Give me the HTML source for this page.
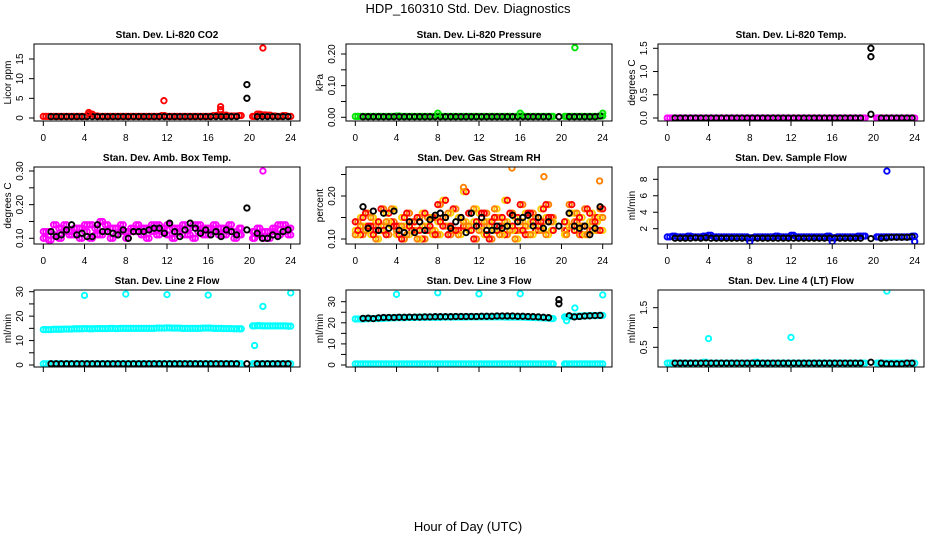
<!DOCTYPE html>
<html><head><meta charset="utf-8"><style>
html,body{margin:0;padding:0;background:#fff}
svg{display:block;font-family:"Liberation Sans",sans-serif}
</style></head><body>
<svg id="c" width="936" height="540" viewBox="0 0 936 540">
<text x="468" y="13" text-anchor="middle" font-size="13">HDP_160310  Std. Dev. Diagnostics</text>
<text x="468" y="531" text-anchor="middle" font-size="13">Hour of Day (UTC)</text>
</svg>
<script>
const tA=[0,0.5,1,1.5,2,2.5,3,3.5,4,4.5,5,5.5,6,6.5,7,7.5,8,8.5,9,9.5,10,10.5,11,11.5,12,12.5,13,13.5,14,14.5,15,15.5,16,16.5,17,17.5,18,18.5,19,20.5,21,21.5,22,22.5,23,23.5,24];
const tC=[0.25,0.75,1.25,1.75,2.25,2.75,3.25,3.75,4.25,4.75,5.25,5.75,6.25,6.75,7.25,7.75,8.25,8.75,9.25,9.75,10.25,10.75,11.25,11.75,12.25,12.75,13.25,13.75,14.25,14.75,15.25,15.75,16.25,16.75,17.25,17.75,18.25,18.75,19.2,20.3,20.75,21.25,21.75,22.25,22.75,23.25,23.75];
const tB=[0.75,1.25,1.75,2.25,2.75,3.25,3.75,4.25,4.75,5.25,5.75,6.25,6.75,7.25,7.75,8.25,8.75,9.25,9.75,10.25,10.75,11.25,11.75,12.25,12.75,13.25,13.75,14.25,14.75,15.25,15.75,16.25,16.75,17.25,17.75,18.25,18.75,19.75,20.75,21.25,21.75,22.25,22.75,23.25,23.75];
const xTicks=[0,4,8,12,16,20,24];

const co2Red=[0.4,0.4,0.4,0.4,0.4,0.4,0.4,0.4,0.4,1.0,0.5,0.4,0.4,0.4,0.4,0.4,0.4,0.4,0.4,0.4,0.4,0.4,0.4,0.6,0.4,0.4,0.4,0.4,0.4,0.4,0.4,0.4,0.4,0.6,0.8,0.7,0.5,0.5,0.6,0.4,1.0,0.8,0.7,0.5,0.4,0.6,0.4];
const co2Black=[0.35,0.35,0.35,0.35,0.35,0.35,0.35,0.35,0.35,0.35,0.35,0.35,0.35,0.35,0.35,0.35,0.35,0.35,0.35,0.35,0.35,0.35,0.35,0.35,0.35,0.35,0.35,0.35,0.35,0.35,0.35,0.35,0.35,0.35,0.35,0.35,0.35,5.0,0.35,0.35,0.35,0.35,0.35,0.35,0.35];
const co2OutT=[4.4,11.7,17.2,17.2,21.3];
const co2OutV=[1.4,4.4,2.9,2.1,17.8];
const co2BlkOutT=[19.75];
const co2BlkOutV=[8.5];
const presGreen=[0.003,0.003,0.003,0.003,0.003,0.003,0.003,0.003,0.004,0.003,0.003,0.003,0.003,0.003,0.003,0.003,0.004,0.003,0.003,0.003,0.003,0.003,0.003,0.003,0.003,0.003,0.003,0.003,0.003,0.003,0.003,0.003,0.004,0.003,0.003,0.003,0.003,0.003,0.003,0.003,0.003,0.003,0.003,0.003,0.003,0.003,0.004];
const presBlack=[0.002,0.002,0.002,0.002,0.002,0.002,0.002,0.002,0.002,0.002,0.002,0.002,0.002,0.002,0.002,0.002,0.002,0.002,0.002,0.002,0.002,0.002,0.002,0.002,0.002,0.002,0.002,0.002,0.002,0.002,0.002,0.002,0.002,0.002,0.002,0.002,0.002,0.002,0.002,0.002,0.002,0.002,0.002,0.002,0.004];
const presOutT=[8,16,24,21.3];
const presOutV=[0.013,0.013,0.013,0.22];
const tempMag=[0,0,0,0,0,0,0,0,0,0,0,0,0,0,0,0,0,0,0,0,0,0,0,0,0,0,0,0,0,0,0,0,0,0,0,0,0,0,0,0,0,0,0,0,0,0,0];
const tempBlack=[0,0,0,0,0,0,0,0,0,0,0,0,0,0,0,0,0,0,0,0,0,0,0,0,0,0,0,0,0,0,0,0,0,0,0,0,0,0.08,0,0,0,0,0,0,0];
const tempBlkOutT=[19.75,19.75];
const tempBlkOutV=[1.5,1.32];
const ambA=[0.10,0.12,0.11,0.13,0.14,0.12,0.11,0.13,0.12,0.14,0.11,0.15,0.12,0.13,0.11,0.14,0.12,0.13,0.12,0.11,0.13,0.12,0.14,0.12,0.11,0.13,0.12,0.14,0.11,0.14,0.12,0.13,0.11,0.12,0.13,0.11,0.14,0.12,0.11,0.12,0.11,0.10,0.12,0.13,0.11,0.14,0.11];
const ambB=[0.12,0.095,0.14,0.10,0.12,0.11,0.13,0.10,0.14,0.10,0.13,0.11,0.14,0.10,0.13,0.12,0.10,0.12,0.14,0.13,0.10,0.14,0.11,0.13,0.14,0.10,0.13,0.11,0.13,0.10,0.14,0.11,0.13,0.14,0.11,0.13,0.12,0.10,0.13,0.10,0.13,0.12,0.10,0.12,0.14,0.12,0.13];
const ambBlack=[0.12,0.105,0.11,0.125,0.14,0.11,0.115,0.105,0.105,0.14,0.12,0.12,0.115,0.11,0.125,0.10,0.12,0.12,0.12,0.125,0.13,0.13,0.115,0.145,0.12,0.105,0.125,0.145,0.13,0.115,0.125,0.11,0.12,0.105,0.125,0.12,0.11,0.125,0.115,0.10,0.10,0.11,0.105,0.12,0.125];
const ambOutT=[21.3];
const ambOutV=[0.30];
const ambBlkOutT=[19.75];
const ambBlkOutV=[0.19];
const rhA=[0.12,0.15,0.13,0.11,0.14,0.12,0.16,0.13,0.11,0.15,0.13,0.14,0.12,0.16,0.13,0.11,0.14,0.19,0.13,0.12,0.15,0.21,0.12,0.14,0.16,0.11,0.14,0.12,0.15,0.19,0.13,0.15,0.12,0.16,0.14,0.13,0.17,0.15,0.12,0.14,0.16,0.12,0.15,0.13,0.16,0.14,0.12];
const rhB=[0.14,0.11,0.16,0.13,0.12,0.17,0.11,0.14,0.13,0.10,0.16,0.12,0.15,0.10,0.12,0.15,0.18,0.13,0.11,0.17,0.12,0.13,0.16,0.10,0.13,0.16,0.10,0.15,0.13,0.11,0.16,0.12,0.18,0.11,0.16,0.12,0.14,0.18,0.15,0.12,0.18,0.14,0.11,0.17,0.12,0.15,0.17];
const rhC=[0.11,0.13,0.12,0.15,0.10,0.13,0.14,0.17,0.12,0.13,0.11,0.14,0.10,0.13,0.15,0.12,0.11,0.15,0.16,0.12,0.11,0.14,0.13,0.17,0.12,0.14,0.13,0.17,0.11,0.14,0.12,0.10,0.14,0.13,0.11,0.15,0.12,0.11,0.14,0.11,0.13,0.16,0.13,0.11,0.14,0.12,0.15];
const rhBlack=[0.175,0.125,0.165,0.12,0.16,0.125,0.165,0.12,0.115,0.14,0.115,0.14,0.12,0.145,0.155,0.16,0.15,0.125,0.14,0.15,0.115,0.16,0.13,0.15,0.12,0.12,0.13,0.125,0.13,0.155,0.14,0.15,0.155,0.13,0.15,0.125,0.14,0.13,0.16,0.13,0.125,0.13,0.11,0.125,0.175];
const rhOutT=[15.2,18.3,23.7,10.5];
const rhOutV=[0.265,0.245,0.235,0.22];
const sfBlue=[1.0,1.1,1.0,1.0,1.1,1.0,1.0,1.1,1.2,1.0,1.0,1.0,1.0,1.0,1.0,1.0,0.9,1.0,1.0,1.0,1.0,1.1,1.0,1.0,1.2,1.0,1.0,1.0,1.0,1.0,1.0,1.1,0.9,1.0,1.0,1.0,1.0,1.1,1.1,1.0,1.0,1.0,1.0,1.0,1.0,1.0,1.1];
const sfBlack=[0.85,0.85,0.85,0.85,0.9,0.85,0.9,0.85,0.85,0.85,0.85,0.85,0.85,0.85,0.85,0.85,0.85,0.85,0.85,0.85,0.85,0.85,0.85,0.85,0.85,0.85,0.85,0.85,0.85,0.85,0.85,0.85,0.85,0.85,0.85,0.85,0.85,0.8,0.85,0.9,0.95,0.95,0.95,0.95,1.0];
const sfOutT=[21.3,8,16,24];
const sfOutV=[9.0,0.45,0.45,0.45];
const l2Hi=[14.5,14.5,14.6,14.6,14.7,14.7,14.8,14.8,14.9,14.8,14.9,14.9,14.9,15.0,14.9,15.0,15.0,15.0,15.0,15.0,15.0,15.0,15.1,15.1,15.2,15.1,15.1,15.0,15.0,15.0,15.0,15.1,15.1,15.0,15.0,14.9,14.9,14.8,14.8,16.0,16.1,16.0,16.0,16.0,16.0,16.0,15.9];
const l2Lo=[0.5,0.5,0.5,0.5,0.5,0.5,0.5,0.5,0.5,0.5,0.5,0.5,0.5,0.5,0.5,0.5,0.5,0.5,0.5,0.5,0.5,0.5,0.5,0.5,0.5,0.5,0.5,0.5,0.5,0.5,0.5,0.5,0.5,0.5,0.5,0.5,0.5,0.5,0.5,0.5,0.5,0.5,0.5,0.5,0.5,0.5,0.5];
const l2Black=[0.5,0.5,0.5,0.5,0.5,0.5,0.5,0.5,0.5,0.5,0.5,0.5,0.5,0.5,0.5,0.5,0.5,0.5,0.5,0.5,0.5,0.5,0.5,0.5,0.5,0.5,0.5,0.5,0.5,0.5,0.5,0.5,0.5,0.5,0.5,0.5,0.5,0.5,0.5,0.5,0.5,0.5,0.5,0.5,0.5];
const l2OutT=[4,8,12,16,24,21.3,20.5];
const l2OutV=[28.5,29,28.8,28.6,29.5,24,8];
const l3Hi=[21.8,21.8,21.9,22.0,22.0,22.1,22.2,22.3,22.4,22.4,22.5,22.5,22.6,22.6,22.6,22.6,22.6,22.7,22.7,22.7,22.7,22.7,22.8,22.8,22.8,22.8,22.8,22.8,22.8,22.7,22.7,22.7,22.7,22.6,22.5,22.4,22.3,22.2,22.0,22.8,23.0,23.1,23.2,23.3,23.4,23.4,23.5];
const l3Lo=[0.5,0.5,0.5,0.5,0.5,0.5,0.5,0.5,0.5,0.5,0.5,0.5,0.5,0.5,0.5,0.5,0.5,0.5,0.5,0.5,0.5,0.5,0.5,0.5,0.5,0.5,0.5,0.5,0.5,0.5,0.5,0.5,0.5,0.5,0.5,0.5,0.5,0.5,0.5,0.5,0.5,0.5,0.5,0.5,0.5,0.5,0.5];
const l3Black=[22.1,22.2,22.0,22.3,22.5,22.5,22.5,22.6,22.6,22.7,22.7,22.7,22.8,22.8,22.9,22.9,22.9,22.9,23.0,23.0,23.0,23.0,23.0,23.1,23.1,23.1,23.2,23.2,23.2,23.2,23.1,23.1,23.0,22.9,22.8,22.6,22.4,29.0,23.3,22.8,23.0,23.2,23.3,23.4,23.5];
const l3OutT=[4,8,12,16,24,21.3,20.5];
const l3OutV=[33.5,34.2,33.7,33.8,33.2,27,21];
const l3BlkOutT=[19.75];
const l3BlkOutV=[31];
const l4Cyan=[0.1,0.1,0.1,0.1,0.1,0.1,0.1,0.12,0.1,0.1,0.1,0.1,0.1,0.1,0.1,0.1,0.1,0.12,0.1,0.1,0.1,0.1,0.1,0.1,0.1,0.1,0.1,0.1,0.1,0.1,0.1,0.1,0.1,0.1,0.1,0.1,0.1,0.1,0.1,0.1,0.1,0.1,0.1,0.1,0.1,0.1,0.1];
const l4Black=[0.1,0.1,0.1,0.1,0.1,0.1,0.1,0.1,0.1,0.1,0.1,0.1,0.1,0.1,0.1,0.1,0.1,0.1,0.1,0.1,0.1,0.1,0.1,0.1,0.1,0.1,0.1,0.1,0.1,0.1,0.1,0.1,0.1,0.1,0.1,0.1,0.1,0.12,0.1,0.08,0.08,0.08,0.08,0.1,0.1];
const l4OutT=[4,12,21.3];
const l4OutV=[0.72,0.75,1.92];

const NS="http://www.w3.org/2000/svg";
const svg=document.getElementById('c');
function mk(tag,attrs,parent){const e=document.createElementNS(NS,tag);for(const k in attrs)e.setAttribute(k,attrs[k]);(parent||svg).appendChild(e);return e;}

const RED="#ff0000",GRN="#00e400",MAG="#ff00ff",BLU="#0000ff",CYN="#00ffff",YEL="#ffd000",ORG="#ff8000",BLK="#000000";
const panels=[
 {title:"Stan. Dev. Li-820 CO2",ylab:"Licor ppm",col:0,row:0,ref:[0,74,15,15],ticks:[0,5,10,15],labels:[0,5,10,15],fmt:0,
  series:[[tA,co2Red,RED],[tC,co2Red,RED],[tB,co2Black,BLK],[co2BlkOutT,co2BlkOutV,BLK],[co2OutT,co2OutV,RED]]},
 {title:"Stan. Dev. Li-820 Pressure",ylab:"kPa",col:1,row:0,ref:[0,73.3,0.2,10],ticks:[0,0.05,0.1,0.15,0.2],labels:[0,0.1,0.2],fmt:2,
  series:[[tA,presGreen,GRN],[tC,presGreen,GRN],[tB,presBlack,BLK],[presOutT,presOutV,GRN]]},
 {title:"Stan. Dev. Li-820 Temp.",ylab:"degrees C",col:2,row:0,ref:[0,74,1.5,4.3],ticks:[0,0.5,1,1.5],labels:[0,0.5,1,1.5],fmt:1,
  series:[[tA,tempMag,MAG],[tC,tempMag,MAG],[tB,tempBlack,BLK],[tempBlkOutT,tempBlkOutV,BLK]]},
 {title:"Stan. Dev. Amb. Box Temp.",ylab:"degrees C",col:0,row:1,ref:[0.1,71.3,0.3,4],ticks:[0.1,0.15,0.2,0.25,0.3],labels:[0.1,0.2,0.3],fmt:2,
  series:[[tA,ambA,MAG],[tC,ambB,MAG],[tA,ambB,MAG],[tC,ambA,MAG],[tB,ambBlack,BLK],[ambBlkOutT,ambBlkOutV,BLK],[ambOutT,ambOutV,MAG]]},
 {title:"Stan. Dev. Gas Stream RH",ylab:"percent",col:1,row:1,ref:[0.1,72,0.2,29],ticks:[0.1,0.15,0.2,0.25],labels:[0.1,0.2],fmt:2,
  series:[[tA,rhA,YEL],[tC,rhB,ORG],[tA,rhB,RED],[tC,rhC,YEL],[tA,rhC,ORG],[tC,rhA,RED],[tB,rhBlack,BLK],[rhOutT,rhOutV,ORG]]},
 {title:"Stan. Dev. Sample Flow",ylab:"ml/min",col:2,row:1,ref:[2,61.7,8,12.3],ticks:[2,4,6,8],labels:[2,4,6,8],fmt:0,
  series:[[tA,sfBlue,BLU],[tC,sfBlue,BLU],[tB,sfBlack,BLK],[sfOutT,sfOutV,BLU]]},
 {title:"Stan. Dev. Line 2 Flow",ylab:"ml/min",col:0,row:2,ref:[0,75,30,1.7],ticks:[0,5,10,15,20,25,30],labels:[0,10,20,30],fmt:0,
  series:[[tA,l2Hi,CYN],[tC,l2Hi,CYN],[tA,l2Lo,CYN],[tC,l2Lo,CYN],[tB,l2Black,BLK],[l2OutT,l2OutV,CYN]]},
 {title:"Stan. Dev. Line 3 Flow",ylab:"ml/min",col:1,row:2,ref:[0,75,30,11.7],ticks:[0,5,10,15,20,25,30],labels:[0,10,20,30],fmt:0,
  series:[[tA,l3Hi,CYN],[tC,l3Hi,CYN],[tA,l3Lo,CYN],[tC,l3Lo,CYN],[tB,l3Black,BLK],[l3BlkOutT,l3BlkOutV,BLK],[l3OutT,l3OutV,CYN]]},
 {title:"Stan. Dev. Line 4 (LT) Flow",ylab:"ml/min",col:2,row:2,ref:[0.5,57.3,1.5,17.7],ticks:[0.5,1,1.5],labels:[0.5,1.5],fmt:1,
  series:[[tA,l4Cyan,CYN],[tC,l4Cyan,CYN],[tB,l4Black,BLK],[l4OutT,l4OutV,CYN]]}
];
const LEFTS=[34,346,658],TOPS=[44,167,290],PW=266,PH=77;

panels.forEach((p,i)=>{
  const L=LEFTS[p.col],T=TOPS[p.row];
  const g=mk('g',{});
  
  
  const xs=t=>L+9.3+t*(247.4/24);
  const [v1,p1,v2,p2]=p.ref;
  const ys=v=>T+p1+(v-v1)*(p2-p1)/(v2-v1);
  const cp=mk('clipPath',{id:'cp'+i},g);
  mk('rect',{x:L,y:T,width:PW,height:PH},cp);
  const pts=mk('g',{'clip-path':'url(#cp'+i+')'},g);
  
  
  p.series.forEach(s=>{
    const [tt,vv,col]=s;
    for(let k=0;k<tt.length;k++){
      const c=mk('circle',{cx:xs(tt[k]).toFixed(1),cy:ys(vv[k]).toFixed(1),r:2.7,fill:'none',stroke:col,'stroke-width':1.9},pts);
      
      
    }
  });
  const box=mk('rect',{x:L,y:T,width:PW,height:PH,fill:'none',stroke:'#000','stroke-width':1},g);
  
  
  const tt=mk('text',{x:L+PW/2,y:T-6,'text-anchor':'middle','font-size':10,'font-weight':'bold'},g);
  tt.textContent=p.title;
  
  
  xTicks.forEach(t=>{
    mk('line',{x1:xs(t),x2:xs(t),y1:T+PH,y2:T+PH+5,stroke:'#000'},g);
    if(p.row<2){
      const lb=mk('text',{x:xs(t),y:T+PH+20,'text-anchor':'middle','font-size':10},g);
      lb.textContent=t;
      
      
    }
  });
  p.ticks.forEach(v=>{
    mk('line',{x1:L-5,x2:L,y1:ys(v),y2:ys(v),stroke:'#000'},g);
  });
  p.labels.forEach(v=>{
    const x=L-11,y=ys(v);
    const lb=mk('text',{x:x,y:y,'text-anchor':'middle','font-size':10,transform:`rotate(-90 ${x} ${y})`},g);
    lb.textContent=v.toFixed(p.fmt);
    
    
  });
  const yx=L-23,yy=T+PH/2;
  const yl=mk('text',{x:yx,y:yy,'text-anchor':'middle','font-size':10,transform:`rotate(-90 ${yx} ${yy})`},g);
  yl.textContent=p.ylab;
  
  
});
</script>
</body></html>
